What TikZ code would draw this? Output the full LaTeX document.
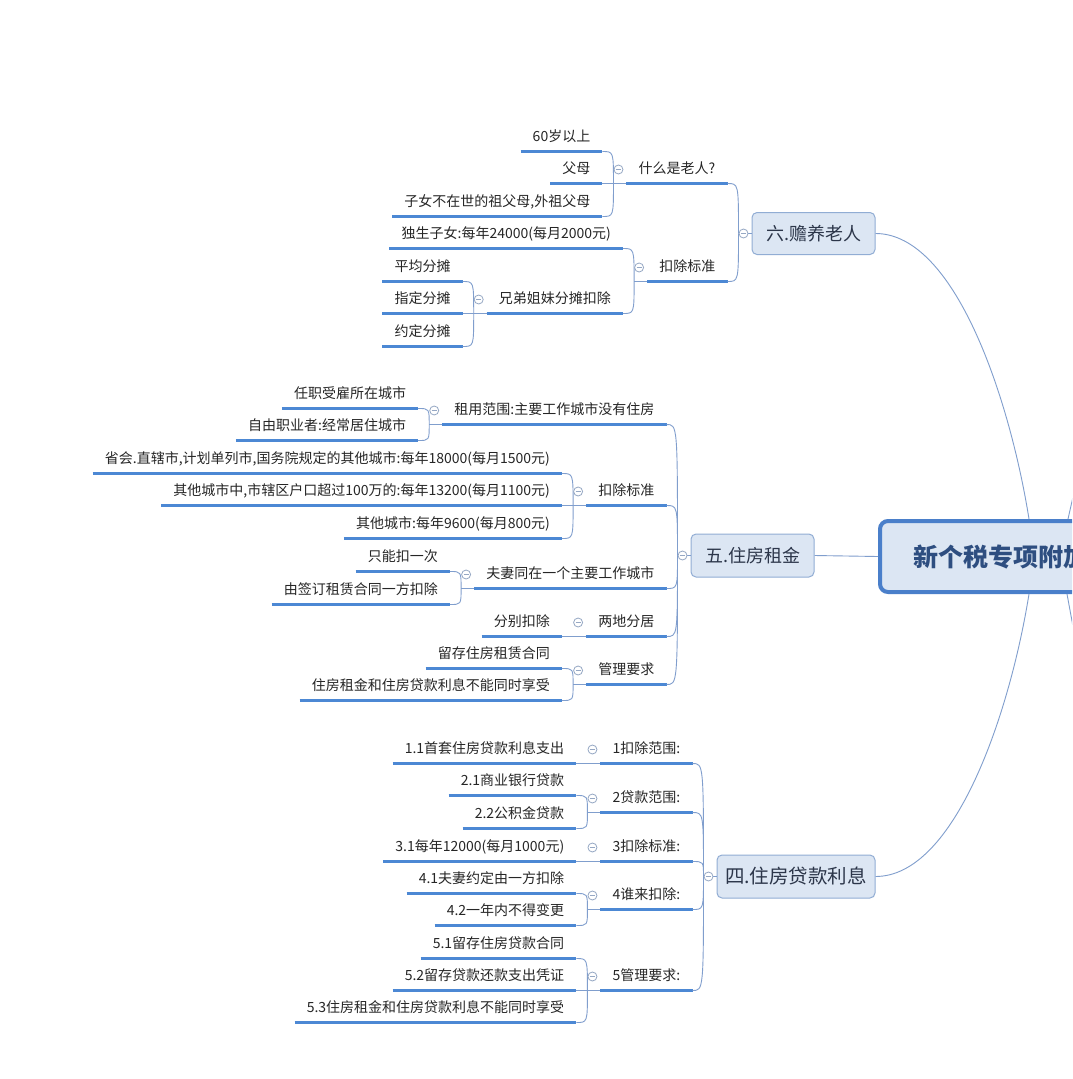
\documentclass[tikz,border=0pt]{standalone}
\usepackage{fontspec}
\setmainfont{Noto Sans CJK SC}
\usetikzlibrary{calc}
\definecolor{ulc}{RGB}{76,136,212}
\definecolor{cvc}{RGB}{128,158,205}
\definecolor{txt}{RGB}{38,38,38}
\definecolor{l1f}{RGB}{220,230,243}
\definecolor{l1b}{RGB}{145,173,212}
\definecolor{l1t}{RGB}{44,54,74}
\definecolor{cbc}{RGB}{150,168,196}
\definecolor{cbord}{RGB}{74,127,202}
\definecolor{ctxt}{RGB}{46,78,128}
\tikzset{
  topic/.style={inner xsep=12pt, inner ysep=6.5pt, text height=11pt, text depth=3pt,
    font=\fontsize{14}{16}\selectfont, text=txt},
  ul/.style={draw=ulc, line width=2.8pt},
  cv/.style={draw=cvc, line width=0.9pt},
  lone/.style={draw=l1b, fill=l1f, line width=1pt, rounded corners=5pt, text=l1t,
    inner sep=0pt, minimum height=43pt, font=\fontsize{18}{20}\selectfont},
  colb/.style={circle, draw=cbc, fill=white, line width=0.8pt, minimum size=9pt, inner sep=0pt,
    path picture={\draw[cbc, line width=0.7pt]
      ([xshift=-2.6pt]path picture bounding box.center) -- ([xshift=2.6pt]path picture bounding box.center);}},
  cbox/.style={draw=cbord, fill=l1f, line width=4pt, rounded corners=8pt, inner sep=0pt},
  ctext/.style={inner sep=0pt, font=\fontsize{25}{28}\selectfont\bfseries, text=ctxt},
}
\newcommand{\tp}[3]{\node[topic, anchor=south east] (#1) at (#2) {#3};
  \draw[ul] (#1.south west) -- (#1.south east);}
\newcommand{\jt}[1]{\coordinate (J#1) at ($(#1.south west)+(-13,0)$);
  \draw[cv] (J#1) -- (#1.south west);}
\newcommand{\jl}[1]{\coordinate (J#1) at ($(#1.west)+(-13,0)$);
  \draw[cv] (J#1) -- (#1.west);}
\newcommand{\cvto}[2]{\draw[cv] (#2.south east) .. controls (J#1 |- #2.south east) .. (J#1);}
\newcommand{\ct}[1]{\node[colb] (O#1) at ($(#1.south west)+(-8,-14)$) {};}
\newcommand{\cl}[1]{\node[colb] (O#1) at ($(#1.west)+(-8,0)$) {};}
\begin{document}
\begin{tikzpicture}[x=1pt, y=-1pt]
\useasboundingbox (0,0) rectangle (1072,1079);
\fill[white] (0,0) rectangle (1072,1079);
\clip (0,0) rectangle (1072,1079);

% central node
\node[cbox, minimum width=420pt, minimum height=71pt, anchor=west] (C) at (878,556.5) {};
\node[ctext, anchor=west] (Ct) at (913,557) {新个税专项附加扣除};
\coordinate (rt) at (1075,488);
\coordinate (rb) at (1074,632);
\draw[cv] ($(C.north west)+(190,0)$) -- (rt);
\draw[cv] ($(C.south west)+(189,0)$) -- (rb);

% level 1
\node[lone, minimum width=123pt, minimum height=42pt] (L6) at (813.5,233.5) {六.赡养老人};
\node[lone, minimum width=123pt, minimum height=43pt] (L5) at (752.5,555.5) {五.住房租金};
\node[lone, minimum width=158pt, font=\fontsize{19.5}{22}\selectfont] (L4) at (796,876.5) {四.住房贷款利息};

\draw[cv] (L6.east) .. controls +(80,0) and (1010,400) .. ($(C.north west)+(151,0)$);
\draw[cv] (L4.east) .. controls +(80,0) and (1010,712) .. ($(C.south west)+(151,0)$);
\draw[cv] (L5.east) -- (C.west);

% ---------- 六 ----------
\jl{L6}
\tp{a1}{$(L6.west)+(-24,-50)$}{什么是老人?}
\tp{a2}{$(L6.west)+(-24,48)$}{扣除标准}
\cvto{L6}{a1}\cvto{L6}{a2}
\jt{a1}
\tp{a11}{$(a1.south west)+(-24,-32)$}{60岁以上}
\tp{a12}{$(a1.south west)+(-24,0)$}{父母}
\tp{a13}{$(a1.south west)+(-24,33)$}{子女不在世的祖父母,外祖父母}
\cvto{a1}{a11}\cvto{a1}{a12}\cvto{a1}{a13}
\jt{a2}
\tp{a21}{$(a2.south west)+(-24,-33)$}{独生子女:每年24000(每月2000元)}
\tp{a22}{$(a2.south west)+(-24,32)$}{兄弟姐妹分摊扣除}
\cvto{a2}{a21}\cvto{a2}{a22}
\jt{a22}
\tp{a221}{$(a22.south west)+(-24,-32)$}{平均分摊}
\tp{a222}{$(a22.south west)+(-24,0)$}{指定分摊}
\tp{a223}{$(a22.south west)+(-24,33)$}{约定分摊}
\cvto{a22}{a221}\cvto{a22}{a222}\cvto{a22}{a223}
\cl{L6}\ct{a1}\ct{a2}\ct{a22}

% ---------- 五 ----------
\jl{L5}
\tp{b1}{$(L5.west)+(-24,-131)$}{租用范围:主要工作城市没有住房}
\tp{b2}{$(L5.west)+(-24,-50)$}{扣除标准}
\tp{b3}{$(L5.west)+(-24,33)$}{夫妻同在一个主要工作城市}
\tp{b4}{$(L5.west)+(-24,81)$}{两地分居}
\tp{b5}{$(L5.west)+(-24,129)$}{管理要求}
\cvto{L5}{b1}\cvto{L5}{b2}\cvto{L5}{b3}\cvto{L5}{b4}\cvto{L5}{b5}
\jt{b1}
\tp{b11}{$(b1.south west)+(-24,-16)$}{任职受雇所在城市}
\tp{b12}{$(b1.south west)+(-24,16)$}{自由职业者:经常居住城市}
\cvto{b1}{b11}\cvto{b1}{b12}
\jt{b2}
\tp{b21}{$(b2.south west)+(-24,-32)$}{省会.直辖市,计划单列市,国务院规定的其他城市:每年18000(每月1500元)}
\tp{b22}{$(b2.south west)+(-24,0)$}{其他城市中,市辖区户口超过100万的:每年13200(每月1100元)}
\tp{b23}{$(b2.south west)+(-24,33)$}{其他城市:每年9600(每月800元)}
\cvto{b2}{b21}\cvto{b2}{b22}\cvto{b2}{b23}
\jt{b3}
\tp{b31}{$(b3.south west)+(-24,-17)$}{只能扣一次}
\tp{b32}{$(b3.south west)+(-24,16)$}{由签订租赁合同一方扣除}
\cvto{b3}{b31}\cvto{b3}{b32}
\jt{b4}
\tp{b41}{$(b4.south west)+(-24,0)$}{分别扣除}
\cvto{b4}{b41}
\jt{b5}
\tp{b51}{$(b5.south west)+(-24,-16)$}{留存住房租赁合同}
\tp{b52}{$(b5.south west)+(-24,16)$}{住房租金和住房贷款利息不能同时享受}
\cvto{b5}{b51}\cvto{b5}{b52}
\cl{L5}\ct{b1}\ct{b2}\ct{b3}\ct{b4}\ct{b5}

% ---------- 四 ----------
\jl{L4}
\tp{c1}{$(L4.west)+(-24,-113)$}{1扣除范围:}
\tp{c2}{$(L4.west)+(-24,-64)$}{2贷款范围:}
\tp{c3}{$(L4.west)+(-24,-15)$}{3扣除标准:}
\tp{c4}{$(L4.west)+(-24,33)$}{4谁来扣除:}
\tp{c5}{$(L4.west)+(-24,114)$}{5管理要求:}
\cvto{L4}{c1}\cvto{L4}{c2}\cvto{L4}{c3}\cvto{L4}{c4}\cvto{L4}{c5}
\jt{c1}
\tp{c11}{$(c1.south west)+(-24,0)$}{1.1首套住房贷款利息支出}
\cvto{c1}{c11}
\jt{c2}
\tp{c21}{$(c2.south west)+(-24,-17)$}{2.1商业银行贷款}
\tp{c22}{$(c2.south west)+(-24,16)$}{2.2公积金贷款}
\cvto{c2}{c21}\cvto{c2}{c22}
\jt{c3}
\tp{c31}{$(c3.south west)+(-24,0)$}{3.1每年12000(每月1000元)}
\cvto{c3}{c31}
\jt{c4}
\tp{c41}{$(c4.south west)+(-24,-16)$}{4.1夫妻约定由一方扣除}
\tp{c42}{$(c4.south west)+(-24,16)$}{4.2一年内不得变更}
\cvto{c4}{c41}\cvto{c4}{c42}
\jt{c5}
\tp{c51}{$(c5.south west)+(-24,-32)$}{5.1留存住房贷款合同}
\tp{c52}{$(c5.south west)+(-24,0)$}{5.2留存贷款还款支出凭证}
\tp{c53}{$(c5.south west)+(-24,32)$}{5.3住房租金和住房贷款利息不能同时享受}
\cvto{c5}{c51}\cvto{c5}{c52}\cvto{c5}{c53}
\cl{L4}\ct{c1}\ct{c2}\ct{c3}\ct{c4}\ct{c5}
\end{tikzpicture}
\end{document}
